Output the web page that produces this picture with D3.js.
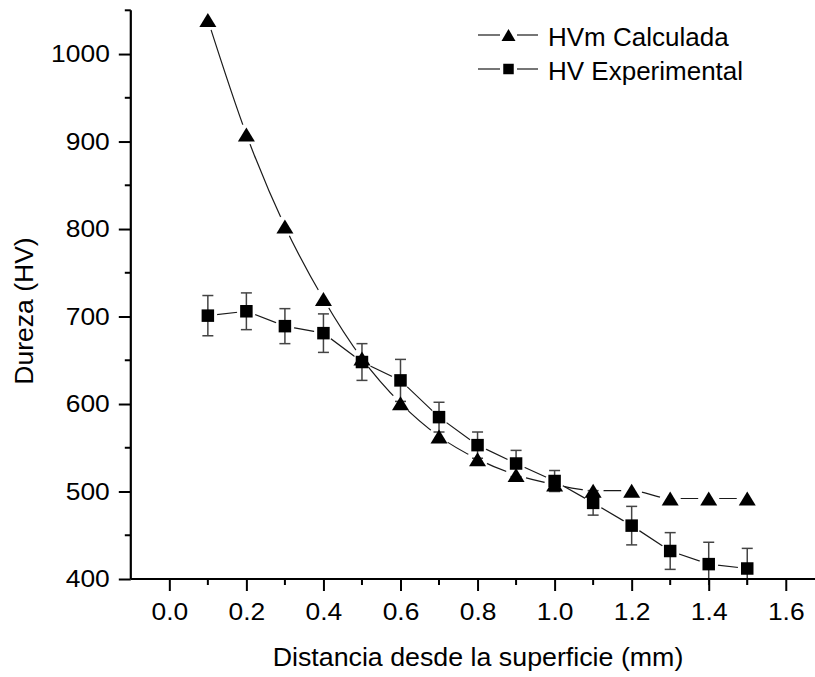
<!DOCTYPE html>
<html>
<head>
<meta charset="utf-8">
<script src="https://cdn.jsdelivr.net/npm/d3@7/dist/d3.min.js"></script>
<style>
  html, body { margin: 0; padding: 0; background: #fff; }
  svg { display: block; }
  text { font-family: "Liberation Sans", Arial, sans-serif; fill: #000; }
</style>
</head>
<body>
<svg id="chart" width="815" height="677"></svg>
<script>
// Distance from the surface (mm)
const distances = [0.1, 0.2, 0.3, 0.4, 0.5, 0.6, 0.7, 0.8, 0.9, 1.0, 1.1, 1.2, 1.3, 1.4, 1.5];
// Calculated micro-hardness (HVm)
const hvCalculated = [1039, 908, 803, 720, 652, 601, 563, 537, 519, 508, 501, 501, 492, 492, 492];
// Measured hardness (HV) and its standard deviation
const hvExperimental = [701, 706, 689, 681, 648, 627, 585, 553, 532, 512, 487, 461, 432, 417, 412];
const hvError = [23, 21, 20, 22, 21, 24, 17, 15, 15, 12, 14, 22, 21, 25, 23];

const xMajorTicks = [0.0, 0.2, 0.4, 0.6, 0.8, 1.0, 1.2, 1.4, 1.6];
const xMinorTicks = [0.1, 0.3, 0.5, 0.7, 0.9, 1.1, 1.3, 1.5, 1.7];
const yMajorTicks = [400, 500, 600, 700, 800, 900, 1000];
const yMinorTicks = [450, 550, 650, 750, 850, 950, 1050];

const seriesNames = ["HVm Calculada", "HV Experimental"];
const xTitle = "Distancia desde la superficie (mm)";
const yTitle = "Dureza (HV)";

const FONT = '"Liberation Sans", Arial, sans-serif';
const svg = d3.select("#chart");

const x = d3.scaleLinear().domain([-0.1, 1.7]).range([130.8, 824.3]);
const y = d3.scaleLinear().domain([400, 1050]).range([579, 10.3]);

const ink = "#000";
const lineInk = "#1a1a1a";
const errInk = "#444";

// marker shapes, centred on the data point
function triPath(w, h) {
  return `M0,${-h / 2}L${w / 2},${h / 2}L${-w / 2},${h / 2}Z`;
}
function sqPath(s) {
  return `M${-s / 2},${-s / 2}h${s}v${s}h${-s}Z`;
}

// widen a text element horizontally by a factor, keeping its anchor
function widen(sel, k) {
  sel.each(function () {
    const w = this.getComputedTextLength();
    d3.select(this).attr("textLength", w * k).attr("lengthAdjust", "spacingAndGlyphs");
  });
}

const calc = distances.map((d, i) => ({ x: d, y: hvCalculated[i] }));
const expt = distances.map((d, i) => ({ x: d, y: hvExperimental[i], e: hvError[i] }));

// masks leave a small gap between each connecting line and its own symbols
const defs = svg.append("defs");
function makeMask(id, pts, r) {
  const m = defs.append("mask").attr("id", id).attr("maskUnits", "userSpaceOnUse")
    .attr("x", 0).attr("y", 0).attr("width", 815).attr("height", 677);
  m.append("rect").attr("width", 815).attr("height", 677).attr("fill", "#fff");
  m.selectAll("circle").data(pts).join("circle")
    .attr("cx", d => x(d.x)).attr("cy", d => y(d.y)).attr("r", r).attr("fill", "#000");
}
makeMask("gapCalc", calc, 10.5);
makeMask("gapExpt", expt, 9.5);

// connecting lines
svg.append("path")
  .datum(calc)
  .attr("mask", "url(#gapCalc)")
  .attr("fill", "none").attr("stroke", lineInk).attr("stroke-width", 1.2)
  .attr("d", d3.line().x(d => x(d.x)).y(d => y(d.y)).curve(d3.curveMonotoneX));

svg.append("path")
  .datum(expt)
  .attr("mask", "url(#gapExpt)")
  .attr("fill", "none").attr("stroke", lineInk).attr("stroke-width", 1.2)
  .attr("d", d3.line().x(d => x(d.x)).y(d => y(d.y)));

// error bars
const eb = svg.append("g").attr("stroke", errInk).attr("stroke-width", 1.5).attr("fill", "none");
eb.selectAll("line.v").data(expt).join("line").attr("class", "v")
  .attr("x1", d => x(d.x)).attr("x2", d => x(d.x))
  .attr("y1", d => y(d.y + d.e)).attr("y2", d => Math.min(y(d.y - d.e), y(400) + 6));
eb.selectAll("line.t").data(expt).join("line").attr("class", "t")
  .attr("x1", d => x(d.x) - 5.5).attr("x2", d => x(d.x) + 5.5)
  .attr("y1", d => y(d.y + d.e)).attr("y2", d => y(d.y + d.e));
eb.selectAll("line.b").data(expt.filter(d => y(d.y - d.e) < y(400))).join("line").attr("class", "b")
  .attr("x1", d => x(d.x) - 5.5).attr("x2", d => x(d.x) + 5.5)
  .attr("y1", d => y(d.y - d.e)).attr("y2", d => y(d.y - d.e));

// symbols
svg.append("g").selectAll("path").data(expt).join("path")
  .attr("transform", d => `translate(${x(d.x)},${y(d.y)})`)
  .attr("d", sqPath(12.5)).attr("fill", ink);
svg.append("g").selectAll("path").data(calc).join("path")
  .attr("transform", d => `translate(${x(d.x)},${y(d.y)})`)
  .attr("d", triPath(17, 14)).attr("fill", ink);

// axes
const axisG = svg.append("g");
const xAxis = axisG.append("g").attr("transform", `translate(0,${y(400)})`)
  .call(d3.axisBottom(x).tickValues(xMajorTicks).tickFormat(d3.format(".1f")).tickSize(12).tickPadding(12));
xAxis.append("g").selectAll("line").data(xMinorTicks).join("line")
  .attr("x1", d => x(d)).attr("x2", d => x(d)).attr("y1", 0).attr("y2", 6)
  .attr("stroke", ink).attr("stroke-width", 2);

const yAxis = axisG.append("g").attr("transform", `translate(${x(-0.1)},0)`)
  .call(d3.axisLeft(y).tickValues(yMajorTicks).tickFormat(d3.format("d")).tickSize(12).tickPadding(9));
yAxis.append("g").selectAll("line").data(yMinorTicks).join("line")
  .attr("y1", d => y(d)).attr("y2", d => y(d)).attr("x1", 0).attr("x2", -6)
  .attr("stroke", ink).attr("stroke-width", 2);

axisG.selectAll("g").attr("font-family", null).attr("font-size", null);
axisG.selectAll(".domain").attr("stroke", ink).attr("stroke-width", 2.2);
axisG.selectAll(".tick line").attr("stroke", ink).attr("stroke-width", 2);
axisG.selectAll(".tick text")
  .style("font-size", "24px").style("font-family", FONT).attr("fill", ink)
  .call(widen, 1.1);

// x-axis domain path should run straight without end ticks
xAxis.select(".domain").attr("d", `M${x(-0.1)},0H${x(1.7)}`);
yAxis.select(".domain").attr("d", `M0,${y(1050)}V${y(400)}`);

// axis titles
svg.append("text")
  .attr("x", 478).attr("y", 666)
  .attr("text-anchor", "middle").style("font-size", "25.5px")
  .text(xTitle)
  .call(widen, 1.05);
svg.append("text")
  .attr("transform", `translate(33,311) rotate(-90)`)
  .attr("text-anchor", "middle").style("font-size", "26.5px")
  .text(yTitle);

// legend
const legend = svg.append("g");
const legendRows = [
  { name: seriesNames[0], shape: triPath(14, 12), y: 35 },
  { name: seriesNames[1], shape: sqPath(10.5), y: 69 }
];
legendRows.forEach(r => {
  legend.append("line").attr("x1", 478).attr("x2", 500).attr("y1", r.y).attr("y2", r.y)
    .attr("stroke", lineInk).attr("stroke-width", 1.2);
  legend.append("line").attr("x1", 517).attr("x2", 538).attr("y1", r.y).attr("y2", r.y)
    .attr("stroke", lineInk).attr("stroke-width", 1.2);
  legend.append("path").attr("transform", `translate(508.5,${r.y})`).attr("d", r.shape).attr("fill", ink);
  legend.append("text").attr("x", 548).attr("y", r.y + 10.5).style("font-size", "26px").text(r.name);
});
</script>
</body>
</html>
